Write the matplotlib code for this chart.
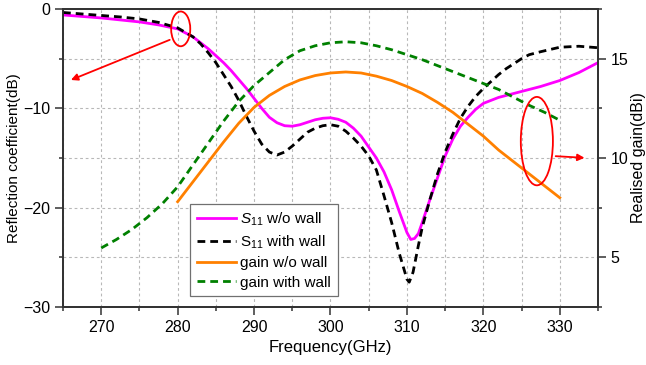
import matplotlib
matplotlib.use("Agg")
import matplotlib.pyplot as plt
from matplotlib.patches import Ellipse
from matplotlib.ticker import MultipleLocator

plt.rcParams['font.family'] = ['Liberation Sans', 'DejaVu Sans']
plt.rcParams['mathtext.fontset'] = 'custom'
plt.rcParams['mathtext.rm'] = 'Liberation Sans'
plt.rcParams['mathtext.it'] = 'Liberation Sans:italic'

# S11 without wall (dB)
f_s11 = [265, 267.5, 270, 272.5, 275, 277.5, 280, 282, 284, 285, 286, 287, 288, 289, 290,
         291, 292, 293, 294, 295, 296, 297, 298, 299, 300, 301, 302, 303, 304, 305, 306,
         307, 308, 309, 310, 310.5, 311, 311.5, 312, 313, 314, 315, 316, 317, 318, 319,
         320, 321, 322, 323, 325, 327.5, 330, 332.5, 335]
s11_nowall = [-0.6, -0.75, -0.9, -1.1, -1.3, -1.6, -2.0, -2.8, -4.0, -4.7, -5.4, -6.2, -7.1, -8.0, -9.0,
              -10.0, -10.9, -11.45, -11.75, -11.8, -11.65, -11.4, -11.15, -11.0, -10.95, -11.1, -11.4, -12.0, -12.8, -13.9, -15.0,
              -16.4, -18.2, -20.4, -22.5, -23.2, -23.1, -22.6, -21.5, -19.2, -17.0, -14.8, -13.1, -11.8, -10.9, -10.1,
              -9.5, -9.2, -8.9, -8.7, -8.3, -7.8, -7.2, -6.4, -5.4]

# S11 with wall (dB)
f_s11w = [265, 267.5, 270, 272.5, 275, 277.5, 280, 282, 283, 284, 285, 286, 287, 288, 289, 290,
          291, 292, 293, 294, 295, 296, 297, 298, 299, 300, 301, 302, 303, 304, 305, 306,
          307, 308, 309, 310, 310.3, 310.8, 311.5, 312, 313, 314, 315, 316, 317, 318, 319,
          320, 321, 322, 323, 324, 325, 326, 327.5, 330, 332.5, 335]
s11_wall = [-0.35, -0.5, -0.65, -0.8, -1.0, -1.35, -1.9, -2.8, -3.5, -4.4, -5.4, -6.6, -7.8, -9.2, -10.8, -12.3,
            -13.6, -14.4, -14.7, -14.4, -13.8, -13.1, -12.4, -12.0, -11.75, -11.65, -11.8, -12.3, -13.0, -13.8, -14.8, -16.2,
            -18.8, -21.5, -24.6, -27.2, -27.5, -26.5, -23.8, -22.0, -19.2, -16.6, -14.4, -12.6, -11.0, -9.8, -8.8,
            -8.0, -7.3, -6.6, -6.0, -5.5, -5.0, -4.6, -4.3, -3.85, -3.75, -3.9]

# realised gain without wall (dBi)
f_gain = [280, 282, 284, 286, 288, 290, 292, 294, 296, 298, 300, 302, 304, 306, 308,
          310, 312, 314, 316, 318, 320, 322, 324, 326, 328, 330]
gain_nowall = [7.8, 8.8, 9.8, 10.8, 11.75, 12.55, 13.15, 13.6, 13.93, 14.15, 14.28, 14.33, 14.28, 14.12, 13.9,
               13.6, 13.25, 12.8, 12.3, 11.7, 11.1, 10.4, 9.8, 9.2, 8.6, 8.0]

# realised gain with wall (dBi)
f_gainw = [270, 272, 274, 276, 278, 280, 282, 284, 286, 288, 290, 292, 294, 296, 298, 300,
           302, 304, 306, 308, 310, 312, 314, 316, 318, 320, 322, 324, 326, 328, 330]
gain_wall = [5.47, 5.9, 6.4, 7.0, 7.7, 8.55, 9.65, 10.75, 11.85, 12.85, 13.65, 14.3, 14.95, 15.4, 15.65, 15.8,
             15.85, 15.8, 15.65, 15.45, 15.2, 14.95, 14.65, 14.35, 14.05, 13.75, 13.45, 13.05, 12.65, 12.3, 11.9]

fig = plt.figure(figsize=(6.46, 3.65), dpi=100)
ax = fig.add_axes([63 / 646, 1 - 307 / 365, 535 / 646, 298 / 365])
ax2 = ax.twinx()

l1, = ax.plot(f_s11, s11_nowall, color='#ff00ff', lw=2, label='$S_{11}$ w/o wall')
l2, = ax.plot(f_s11w, s11_wall, color='black', lw=2, dashes=(2.8, 1.8), label='$\\mathrm{S}_{11}$ with wall')
l3, = ax2.plot(f_gain, gain_nowall, color='#ff8000', lw=2, label='gain w/o wall')
l4, = ax2.plot(f_gainw, gain_wall, color='#008000', lw=2, dashes=(2.8, 1.8), label='gain with wall')

ax.set_xlim(265, 335)
ax.set_ylim(-30, 0)
ax2.set_ylim(2.5, 17.5)

ax.xaxis.set_major_locator(MultipleLocator(10))
ax.xaxis.set_minor_locator(MultipleLocator(5))
ax.yaxis.set_major_locator(MultipleLocator(10))
ax.yaxis.set_minor_locator(MultipleLocator(5))
ax2.yaxis.set_major_locator(MultipleLocator(5))
ax2.yaxis.set_minor_locator(MultipleLocator(2.5))

ax.grid(True, which='both', color='#b8b8b8', lw=0.8, linestyle=(0, (2.5, 2.5)))
ax.set_axisbelow(True)

for a in (ax, ax2):
    a.tick_params(which='major', direction='out', length=5.5, width=1.1, labelsize=11.5, color='#333333')
    a.tick_params(which='minor', direction='out', length=3, width=1.1, color='#333333')
    for s in a.spines.values():
        s.set_linewidth(1.3)
        s.set_color('#333333')
ax.tick_params(axis='y', which='both', right=False)
ax.tick_params(axis='x', which='both', top=False)

ax.set_xticks([270, 280, 290, 300, 310, 320, 330])
ax.set_xlabel('Frequency(GHz)', fontsize=12, labelpad=4)
ax.set_ylabel('Reflection coefficient(dB)', fontsize=11, labelpad=2)
ax2.set_ylabel('Realised gain(dBi)', fontsize=11.5, labelpad=2)

leg = ax2.legend(handles=[l1, l2, l3, l4], loc='upper left', bbox_to_anchor=(0.237, 0.346),
                 borderaxespad=0, fontsize=11, frameon=True, fancybox=False,
                 edgecolor='#707070', framealpha=1, handlelength=2.6, handletextpad=0.25,
                 labelspacing=0.35, borderpad=0.45)
leg.get_frame().set_linewidth(0.9)

# red callouts
ax2.add_patch(Ellipse((280.4, -2.0), 2.5, 3.5, transform=ax.transData,
                      fill=False, edgecolor='red', lw=1.3, zorder=5))
ax2.annotate('', xy=(265.7, -7.25), xytext=(279.3, -3.0), xycoords=ax.transData,
             textcoords=ax.transData,
             arrowprops=dict(arrowstyle='-|>', color='red', lw=1.3, mutation_scale=10))
ax2.add_patch(Ellipse((327.0, -13.3), 4.2, 8.9, transform=ax.transData,
                      fill=False, edgecolor='red', lw=1.3, zorder=5))
ax2.annotate('', xy=(333.6, -15.0), xytext=(329.1, -14.8), xycoords=ax.transData,
             textcoords=ax.transData,
             arrowprops=dict(arrowstyle='-|>', color='red', lw=1.3, mutation_scale=10))

fig.savefig('out.png', dpi=100)
